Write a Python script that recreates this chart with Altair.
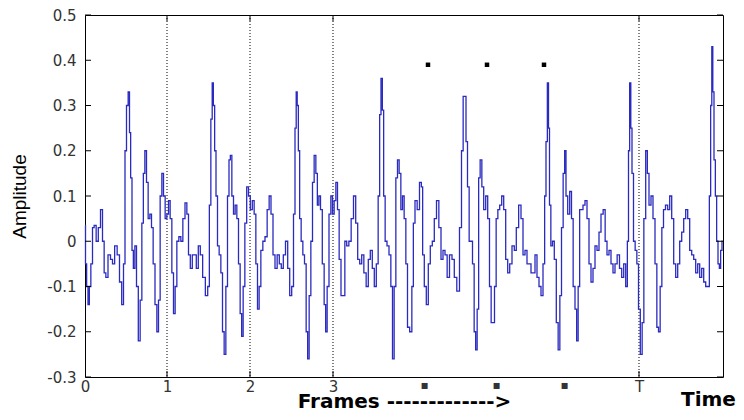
import altair as alt
import pandas as pd

# waveform samples (x = sample index along the plot, y = amplitude)
sample_x = [0, 1, 2.3, 3.7, 5, 6.7, 8.3, 10, 12.3, 14.3, 16.7, 18.3, 20, 21.7, 24.3, 26.7, 28.3, 31, 33.3, 35.7,
            37.7, 39.3, 40.7, 42.3, 44, 45, 46.3, 47.7, 49, 50.7, 52.3, 54.3, 56, 57.7, 59, 60.7, 62.3, 64, 65.7, 67.3,
            69, 71, 72.7, 74.3, 76, 77.7, 79.3, 81, 82.7, 84.3, 86, 87.7, 89.3, 91, 92.7, 95, 96.7, 99, 101, 102.7,
            104.3, 106.3, 108.3, 110.3, 112.3, 114.3, 116.3, 119, 121.7, 123.7, 125, 126.7, 127.7, 129, 130.3, 131.7,
            133.3, 135, 136.7, 138.3, 140, 141.7, 143.3, 144.7, 146, 147.7, 149.3, 151, 152.7, 154.3, 156, 157.3, 159,
            160.7, 162.7, 164.3, 166.3, 168.3, 170, 171.7, 173.3, 175, 176.7, 179, 181, 183.3, 185, 187, 189, 191,
            193.3, 195.3, 197.3, 199.3, 201.7, 203.7, 205.7, 207.7, 209.3, 210.7, 211.7, 212.7, 214, 215.3, 217, 218.7,
            220.3, 222, 223.3, 225, 226.7, 228.3, 230, 231.7, 233, 234.7, 236.3, 238.3, 240, 241.3, 243, 245, 246.7,
            248.3, 250, 251.7, 253.3, 255, 257, 259, 260.7, 262.7, 265, 267.3, 269.7, 271.7, 273.7, 275.7, 277.7, 280,
            282.3, 284.3, 286.3, 288.3, 290.3, 292.3, 294, 295.3, 296.7, 298, 299.3, 301, 303, 305, 306.7, 308.3, 310,
            311.7, 313.3, 315, 316.7, 318.3, 320, 321.7, 323.3, 326, 327.7, 329, 331, 333.3, 335.7, 337, 338.3, 340.3,
            342.3, 344.3, 346.3, 348.3, 350.3, 352.7, 355, 357, 359, 361, 363.3, 365.7, 368.3, 370.3, 373.3, 375.7,
            377.3, 379, 380.3, 381.7, 383.3, 385, 386.7, 388.3, 390, 391.3, 393, 394.3, 396, 397.7, 399.7, 401.7, 403.7,
            405.3, 407, 408.7, 410.3, 412, 413.7, 415.7, 417.7, 419.7, 421.7, 423.7, 425.7, 428.3, 430.3, 432.3, 435,
            437, 439, 441, 443, 445, 447, 449, 451, 453, 455, 457, 459, 460.3, 461.7, 463, 464, 465, 466.7, 468.3,
            470.3, 472.3, 474, 475.7, 477.3, 479, 480.3, 481.7, 483.7, 485.7, 487.3, 489, 491, 492.3, 494, 495.3, 497,
            499, 501, 503, 505, 507, 509, 511, 513, 515, 517, 519.3, 521, 523, 525, 527, 529, 531, 533.3, 535.7, 537.7,
            539.7, 541.7, 543, 544, 545.3, 546.3, 547.7, 549.3, 551, 552.7, 554.3, 556.3, 558, 559.7, 561.7, 563, 565,
            567, 569, 571, 572.7, 574.3, 576, 577.7, 579.3, 581.7, 583.7, 585.7, 587.7, 589.7, 591.7, 593.7, 595.7,
            597.7, 599.7, 601.7, 603.7, 605.7, 607.7, 609.7, 611.7, 613.7, 615.7, 617.7, 619.7, 621.7, 623.7, 625,
            626.3, 627.3, 628.3, 629.7, 631, 632.3, 633.7, 635, 636.3, 637.7]
amplitude = [0.035, -0.05, -0.1, -0.14, -0.1, -0.05, 0.03, 0.035, 0.0, 0.03, 0.07, 0.0, -0.07, -0.08, -0.03, -0.04,
             -0.05, -0.01, -0.03, -0.09, -0.14, -0.05, 0.2, 0.3, 0.33, 0.24, 0.14, -0.02, -0.06, -0.01, -0.1, -0.22,
             -0.13, 0.04, 0.15, 0.2, 0.13, 0.05, 0.06, 0.03, -0.05, -0.14, -0.2, -0.13, 0.1, 0.15, 0.1, 0.05, 0.06,
             0.09, 0.05, -0.07, -0.16, -0.1, 0.0, 0.01, 0.0, 0.05, 0.085, 0.06, -0.03, -0.06, -0.03, -0.03, -0.06,
             -0.01, -0.03, -0.08, -0.12, -0.1, 0.08, 0.27, 0.35, 0.3, 0.2, 0.1, -0.01, -0.03, -0.07, -0.2, -0.25,
             -0.1, 0.1, 0.18, 0.19, 0.1, 0.06, 0.08, 0.05, -0.05, -0.16, -0.21, -0.1, 0.04, 0.12, 0.1, 0.07, 0.09,
             0.06, -0.05, -0.15, -0.1, -0.02, 0.0, 0.01, 0.07, 0.1, 0.06, -0.03, -0.06, -0.03, -0.05, -0.06, -0.03,
             0.0, -0.06, -0.12, -0.1, 0.06, 0.25, 0.33, 0.3, 0.2, 0.05, 0.0, -0.03, -0.05, -0.2, -0.26, -0.12, 0.0,
             0.13, 0.19, 0.15, 0.08, 0.1, 0.07, -0.05, -0.14, -0.2, -0.1, 0.06, 0.1, 0.06, 0.09, 0.13, 0.07, -0.04,
             -0.12, -0.12, 0.0, -0.01, 0.0, 0.05, 0.1, 0.04, -0.04, -0.05, -0.03, -0.07, -0.1, -0.04, -0.02, -0.06,
             -0.1, -0.05, 0.1, 0.28, 0.36, 0.29, 0.1, 0.0, -0.01, -0.03, -0.1, -0.26, -0.1, 0.14, 0.18, 0.15, 0.07,
             0.1, 0.05, -0.05, -0.19, -0.2, -0.1, 0.04, 0.09, 0.07, 0.13, 0.12, -0.03, -0.1, -0.14, -0.05, -0.01, 0.0,
             0.05, 0.09, 0.03, -0.04, -0.02, -0.03, -0.08, -0.03, -0.04, -0.08, -0.11, 0.03, 0.2, 0.32, 0.32, 0.22,
             0.12, 0.0, 0.0, -0.05, -0.2, -0.24, -0.15, 0.14, 0.18, 0.12, 0.07, 0.1, 0.05, -0.1, -0.18, -0.18, -0.1,
             0.05, 0.07, 0.08, 0.1, 0.07, -0.04, -0.07, -0.05, -0.01, -0.02, 0.03, 0.08, 0.05, -0.03, -0.02, -0.05,
             -0.05, -0.07, -0.07, -0.03, -0.08, -0.1, -0.12, -0.05, 0.1, 0.22, 0.35, 0.25, 0.08, -0.01, 0.0, -0.04,
             -0.18, -0.24, -0.12, 0.03, 0.15, 0.2, 0.1, 0.06, 0.11, 0.05, -0.1, -0.15, -0.22, -0.1, 0.07, 0.07, 0.08,
             0.09, 0.05, -0.05, -0.09, -0.06, -0.01, -0.02, 0.02, 0.06, 0.07, 0.0, -0.03, -0.02, -0.05, -0.07, -0.05,
             -0.03, -0.06, -0.08, -0.05, -0.1, 0.0, 0.2, 0.35, 0.25, 0.15, 0.0, -0.02, -0.05, -0.15, -0.25, -0.18,
             0.05, 0.2, 0.15, 0.08, 0.1, 0.05, -0.05, -0.19, -0.2, -0.1, 0.03, 0.07, 0.08, 0.07, 0.1, 0.05, -0.05,
             -0.08, -0.05, 0.0, 0.02, 0.05, 0.07, 0.05, -0.02, -0.03, -0.04, -0.07, -0.05, -0.08, -0.06, -0.09, -0.1,
             -0.1, 0.1, 0.3, 0.43, 0.33, 0.18, 0.1, 0.0, -0.05, -0.06, -0.02, 0.0]

# frame boundary positions and their labels
frame_pos = [82, 165, 248, 554]
tick_pos = [0, 82, 165, 248, 339, 411, 479, 554]
tick_lab = ["0", "1", "2", "3", "\u25aa", "\u25aa", "\u25aa", "T"]
dot_pos = [339, 411, 479]
dot_x = [343, 402, 459]
dot_y = [0.39, 0.39, 0.39]
y_ticks = [-0.3, -0.2, -0.1, 0.0, 0.1, 0.2, 0.3, 0.4, 0.5]

W, H = 638, 362

wave = pd.DataFrame({"x": sample_x, "y": amplitude})
frames = pd.DataFrame({"x": frame_pos})
dots = pd.DataFrame({"x": dot_x, "y": dot_y})
yt = pd.DataFrame({"y": y_ticks})

label_expr = ""
for p, l in zip(tick_pos, tick_lab):
    label_expr += f"datum.value == {p} ? '{l}' : "
label_expr += "''"
dot_test = " || ".join(f"datum.value == {p}" for p in dot_pos)

xscale = alt.Scale(domain=[0, W], nice=False, zero=False)
yscale = alt.Scale(domain=[-0.3, 0.5], nice=False, zero=False)

xaxis = alt.Axis(values=tick_pos, labelExpr=label_expr, ticks=False, domain=False, grid=False,
                 labelFont="DejaVu Sans",
                 labelFontSize={"condition": {"test": dot_test, "value": 12}, "value": 15},
                 labelColor="#333333", labelPadding=2,
                 labelFlush=False, title="Frames ------------->", titleFont="DejaVu Sans",
                 titleFontSize=20, titleFontWeight="bold", titleColor="black",
                 titleBaseline="alphabetic", titleY=30)
yaxis = alt.Axis(values=y_ticks,
                 labelExpr="datum.value == 0 ? '0' : (datum.value < 0 ? '-' : '') + format(abs(datum.value), '.1f')",
                 ticks=False, domain=False, grid=False, labelFont="DejaVu Sans", labelFontSize=15,
                 labelColor="#333333", labelPadding=9, labelFlush=False, title="Amplitude",
                 titleFont="Liberation Sans", titleFontSize=19, titleFontWeight="normal", titleColor="black",
                 titlePadding=17)

line = alt.Chart(wave).mark_line(color="#2a2ac0", strokeWidth=1.3, interpolate="step").encode(
    x=alt.X("x:Q", scale=xscale, axis=xaxis),
    y=alt.Y("y:Q", scale=yscale, axis=yaxis),
    order="x:Q",
)

vlines = alt.Chart(frames).mark_rule(color="black", strokeDash=[1, 2], strokeWidth=1).encode(
    x=alt.X("x:Q", scale=xscale)
)

bt = alt.Chart(frames).mark_rule(color="black", strokeWidth=1).encode(
    x=alt.X("x:Q", scale=xscale), y=alt.value(H - 6), y2=alt.value(H)
)
tt = alt.Chart(frames).mark_rule(color="black", strokeWidth=1).encode(
    x=alt.X("x:Q", scale=xscale), y=alt.value(0), y2=alt.value(6)
)
lt = alt.Chart(yt).mark_rule(color="black", strokeWidth=1).encode(
    y=alt.Y("y:Q", scale=yscale), x=alt.value(0), x2=alt.value(6)
)
rt = alt.Chart(yt).mark_rule(color="black", strokeWidth=1).encode(
    y=alt.Y("y:Q", scale=yscale), x=alt.value(W - 6), x2=alt.value(W)
)

dmarks = alt.Chart(dots).mark_square(color="black", opacity=1, size=20).encode(
    x=alt.X("x:Q", scale=xscale), y=alt.Y("y:Q", scale=yscale)
)

time_lbl = alt.Chart(pd.DataFrame({"t": ["Time"]})).mark_text(
    font="DejaVu Sans", fontSize=20, fontWeight="bold", color="black", align="left", baseline="alphabetic"
).encode(text="t:N", x=alt.value(596), y=alt.value(H + 29))

chart = alt.layer(vlines, line, bt, tt, lt, rt, dmarks, time_lbl).properties(
    width=W, height=H,
    autosize=alt.AutoSizeParams(type="none"),
    padding={"left": 77, "top": 7, "right": 13, "bottom": 35},
    background="white",
).configure_view(stroke="black", strokeWidth=1)

chart.save("out.html", embed_options={"renderer": "svg", "actions": False})
